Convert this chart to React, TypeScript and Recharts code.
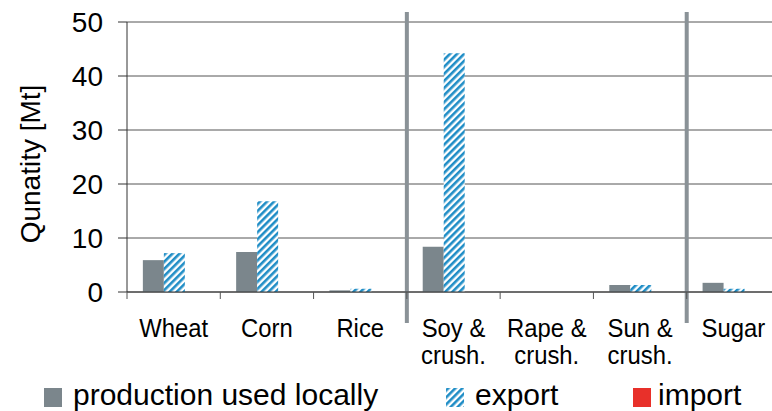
import React from "react";
import { BarChart, Bar, XAxis, YAxis, CartesianGrid, ReferenceLine } from "recharts";

const categories = ["Wheat", "Corn", "Rice", "Soy &\ncrush.", "Rape &\ncrush.", "Sun &\ncrush.", "Sugar"];
const localProduction = [5.9, 7.4, 0.3, 8.4, 0, 1.3, 1.7];
const exportValues = [7.2, 16.8, 0.6, 44.2, 0, 1.3, 0.6];
const importValues = [0, 0, 0, 0, 0, 0, 0];
const yTicks = [0, 10, 20, 30, 40, 50];
// group separators sit at the left edge of these categories
const groupStarts = ["Soy &\ncrush.", "Sugar"];

const FONT = '"Liberation Sans", Arial, sans-serif';
const GRAY = "#7b868c";
const BLUE = "#1f8dc6";
const RED = "#e8302a";

const series = [
  { key: "local", name: "production used locally", fill: GRAY },
  { key: "export", name: "export", fill: "url(#exportHatch)" },
  { key: "import", name: "import", fill: RED },
];

const data = categories.map((name, i) => ({
  name,
  local: localProduction[i],
  export: exportValues[i],
  import: importValues[i],
}));

// category labels are slightly condensed; tick marks go on the band edges
const CategoryTick = (props: any) => {
  const { x, y, payload, width, visibleTicksCount } = props;
  const band =
    typeof width === "number" && visibleTicksCount ? width / visibleTicksCount : 93.3;
  const lines = String(payload.value).split("\n");
  return (
    <g>
      <line x1={x - band / 2} x2={x - band / 2} y1={y} y2={y + 7} stroke="#555" />
      {lines.map((line, i) => (
        <text
          key={i}
          transform={`translate(${x} ${y + 45 + i * 27}) scale(0.9 1)`}
          textAnchor="middle"
          fontSize={26.5}
          fontFamily={FONT}
          fill="#000"
        >
          {line}
        </text>
      ))}
    </g>
  );
};

const YLabel = (props: any) => {
  const { viewBox } = props;
  const cy = viewBox.y + viewBox.height / 2 + 7;
  const cx = 40;
  return (
    <text
      x={cx}
      y={cy}
      transform={`rotate(-90 ${cx} ${cy})`}
      textAnchor="middle"
      fontSize={28}
      fontFamily={FONT}
      fill="#000"
    >
      Qunatity [Mt]
    </text>
  );
};

const separatorShape = (p: any) => (
  <line
    x1={p.x1}
    x2={p.x2}
    y1={Math.min(p.y1, p.y2) - 10}
    y2={Math.max(p.y1, p.y2) + 31}
    stroke="#8a9297"
    strokeWidth={4}
  />
);

const legendPos = [
  { box: 44, text: 73 },
  { box: 446, text: 475 },
  { box: 633, text: 658 },
];

export default function App() {
  return (
    <div
      style={{
        position: "fixed",
        left: 0,
        top: 0,
        width: 772,
        height: 411,
        overflow: "hidden",
        background: "#fff",
      }}
    >
      <svg width={0} height={0} style={{ position: "absolute" }}>
        <defs>
          <pattern
            id="exportHatch"
            patternUnits="userSpaceOnUse"
            width={5}
            height={5}
            patternTransform="rotate(45)"
          >
            <rect width={5} height={5} fill="#fff" />
            <rect width={2.6} height={5} fill={BLUE} />
          </pattern>
        </defs>
      </svg>
      <BarChart
        width={780}
        height={411}
        data={data}
        margin={{ top: 22, right: 0, left: 0, bottom: 0 }}
        barCategoryGap="17%"
        barGap={0}
      >
        <CartesianGrid vertical={false} stroke="#555" />
        <XAxis
          dataKey="name"
          height={119}
          interval={0}
          tickLine={false}
          tickSize={0}
          tickMargin={0}
          axisLine={{ stroke: "#333" }}
          tick={<CategoryTick />}
        />
        <YAxis
          width={127}
          domain={[0, 50]}
          ticks={yTicks}
          interval={0}
          tickSize={9}
          tickMargin={15}
          axisLine={{ stroke: "#333" }}
          tickLine={{ stroke: "#333" }}
          tick={{ fontSize: 28, fontFamily: FONT, fill: "#000" }}
          label={<YLabel />}
        />
        {series.map((s) => (
          <Bar key={s.key} dataKey={s.key} name={s.name} fill={s.fill} isAnimationActive={false} />
        ))}
        {groupStarts.map((c) => (
          <ReferenceLine key={c} x={c} position="start" ifOverflow="visible" shape={separatorShape} />
        ))}
      </BarChart>
      <svg width={772} height={40} style={{ position: "absolute", left: 0, top: 375 }}>
        {series.map((s, i) => (
          <g key={s.key}>
            <rect x={legendPos[i].box} y={13} width={18} height={19} fill={s.fill} />
            <text x={legendPos[i].text} y={30} fontSize={30} fontFamily={FONT} fill="#000">
              {s.name}
            </text>
          </g>
        ))}
      </svg>
    </div>
  );
}
